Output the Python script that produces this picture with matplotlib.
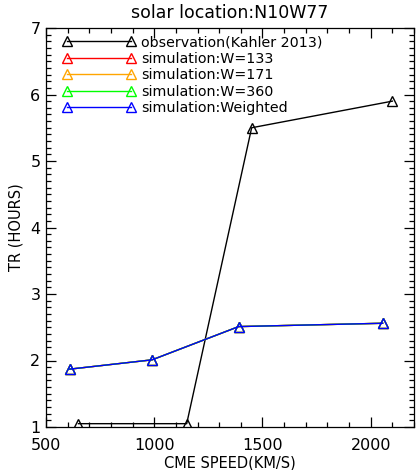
import matplotlib
matplotlib.use('Agg')
import matplotlib.pyplot as plt
from matplotlib.ticker import MultipleLocator

plt.rcParams['font.family'] = ['DejaVu Sans']

# observation (Kahler 2013)
obs_speed = [650, 1150, 1450, 2100]
obs_tr = [1.05, 1.05, 5.5, 5.9]

# simulations (all runs overlap the weighted curve)
sim_speed = [610, 990, 1390, 2055]
sim_w133 = [1.87, 2.01, 2.51, 2.56]
sim_w171 = [1.87, 2.01, 2.51, 2.56]
sim_w360 = [1.87, 2.01, 2.51, 2.56]
sim_weighted = [1.87, 2.01, 2.51, 2.56]

fig = plt.figure(figsize=(4.16, 4.70), dpi=100)
ax = fig.add_axes([46 / 416, 43 / 470, 368 / 416, 399 / 470])

mk = dict(marker='^', markersize=6.8, markerfacecolor='none', markeredgewidth=1.0, lw=1.0)
ax.plot(obs_speed, obs_tr, color='black', label='observation(Kahler 2013)', **mk)
ax.plot(sim_speed, sim_w133, color='red', label='simulation:W=133', **mk)
ax.plot(sim_speed, sim_w171, color='orange', label='simulation:W=171', **mk)
ax.plot(sim_speed, sim_w360, color='#00ff00', label='simulation:W=360', **mk)
ax.plot(sim_speed, sim_weighted, color='blue', label='simulation:Weighted', **mk)

ax.set_xlim(500, 2200)
ax.set_ylim(1, 7)
ax.xaxis.set_major_locator(MultipleLocator(500))
ax.xaxis.set_minor_locator(MultipleLocator(100))
ax.yaxis.set_major_locator(MultipleLocator(1))
ax.yaxis.set_minor_locator(MultipleLocator(0.1))
ax.tick_params(which='both', direction='in', top=True, right=True, labelsize=11.5, width=0.9)
ax.tick_params(which='major', length=7)
ax.tick_params(which='minor', length=3.5)
ax.tick_params(axis='x', which='major', pad=8)
ax.tick_params(axis='y', which='major', pad=4)
for s in ax.spines.values():
    s.set_linewidth(0.9)

ax.set_title('solar location:N10W77', fontsize=12.5, pad=7)
ax.set_xlabel('CME SPEED(KM/S)', fontsize=10.5, labelpad=2)
ax.set_ylabel('TR (HOURS)', fontsize=10.5, labelpad=5)

ax.legend(loc='upper left', bbox_to_anchor=(0.025, 1.0), frameon=False, numpoints=2,
          handlelength=5.1, handletextpad=0.4, fontsize=10.3, labelspacing=0.18,
          borderaxespad=0.2, borderpad=0.3)

fig.savefig('out.png', dpi=100)
